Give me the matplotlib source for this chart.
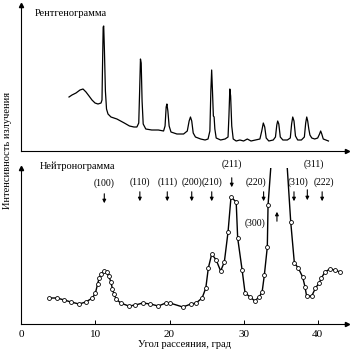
import matplotlib
matplotlib.use("Agg")
import matplotlib.pyplot as plt

plt.rcParams['font.family'] = ['Liberation Serif', 'DejaVu Serif']

# X-ray pattern (angle, deg / intensity, arb.)
xray_angle = [6.44, 6.84, 7.38, 7.92, 8.33, 8.73, 9.14, 9.54, 9.95, 10.35, 10.76, 10.89,
              10.95, 11.05, 11.12, 11.22, 11.35, 11.5, 11.7, 12.1, 12.9, 13.9, 14.6, 15.2,
              15.6, 15.85, 15.97, 16.08, 16.18, 16.3, 16.45, 16.8, 17.6, 18.5, 19.2, 19.4,
              19.55, 19.65, 19.78, 19.95, 20.2, 21.0, 21.9, 22.4, 22.65, 22.83, 23.0, 23.2,
              23.5, 24.2, 24.8, 25.2, 25.45, 25.58, 25.69, 25.8, 25.92, 26.02, 26.12, 26.3,
              26.9, 27.5, 27.9, 28.02, 28.14, 28.25, 28.4, 28.6, 29.0, 29.5, 30.0, 30.5,
              31.0, 31.6, 32.2, 32.45, 32.66, 32.85, 33.05, 33.4, 34.0, 34.3, 34.48, 34.6,
              34.75, 34.95, 35.3, 35.9, 36.3, 36.48, 36.63, 36.8, 37.0, 37.3, 37.8, 38.2,
              38.38, 38.52, 38.65, 38.8, 38.95, 39.2, 39.6, 40.0, 40.25, 40.4, 40.55, 40.75,
              41.1, 41.45]
xray_int = [54, 56, 58, 61, 62, 59, 55, 51, 48, 47, 48, 51,
            80, 124, 125, 100, 60, 42, 37, 34, 32, 28, 25, 24,
            24, 28, 60, 92, 88, 50, 27, 22, 21, 21, 20, 25,
            44, 47, 40, 25, 19, 17, 17, 20, 30, 34, 30, 18,
            14, 12, 11, 12, 20, 60, 81, 60, 35, 34, 22, 13,
            11, 12, 14, 35, 62, 55, 25, 12, 10, 11, 10, 12,
            10, 11, 12, 20, 28, 24, 13, 10, 11, 14, 26, 30,
            27, 14, 11, 11, 13, 27, 34, 30, 15, 11, 11, 14,
            28, 34, 30, 22, 16, 13, 12, 13, 17, 20, 17, 12,
            11, 10]

# neutron pattern, measured points
neutron_angle = [3.7, 4.8, 5.8, 6.7, 7.8, 8.7, 9.6, 10.0, 10.3, 10.5, 10.8, 11.2,
                 11.5, 11.8, 12.1, 12.3, 12.5, 12.8, 13.4, 14.5, 15.4, 16.4, 17.4, 18.5,
                 19.5, 20.05, 21.8, 22.9, 23.6, 24.4, 24.9, 25.24, 25.7, 26.3, 26.9, 27.4,
                 27.9, 28.3, 29.0, 29.2, 29.8, 30.2, 30.9, 31.5, 32.1, 32.5, 32.8, 33.2,
                 33.3, 34.0, 34.8, 35.6, 36.36, 36.85, 37.38, 37.97, 38.29, 38.5, 39.2, 39.7,
                 40.2, 40.5, 40.98, 41.65, 42.3, 43.0]
neutron_int = [26, 26, 24, 22, 20, 22, 26, 31, 40, 46, 50, 53,
               52, 48, 42, 35, 30, 25, 21, 18, 19, 21, 20, 18,
               21, 21, 17, 20, 21, 26, 36, 56, 70, 64, 53, 62,
               92, 127, 122, 86, 54, 31, 27, 23, 27, 32, 49, 77,
               119, 190, 215, 190, 102, 61, 56, 47, 37, 28, 28, 36,
               41, 46, 52, 55, 54, 52]

# reflections
hkl = ['(100)', '(110)', '(111)', '(200)', '(210)', '(211)', '(220)', '(300)', '(310)', '(311)', '(222)']
hkl_angle = [11.2, 16.0, 19.7, 23.0, 25.7, 28.4, 32.7, 34.5, 36.8, 38.6, 40.6]

W = 353.0
fig = plt.figure(figsize=(3.53, 3.53), dpi=100)
x0 = 21.3 / W
wdt = (347 - 21.3) / W
xmax = (347 - 21.3) / 7.41

ax1 = fig.add_axes([x0, (W - 151) / W, wdt, (151 - 5) / W])
ax2 = fig.add_axes([x0, (W - 324) / W, wdt, (324 - 168) / W])

for ax in (ax1, ax2):
    ax.set_xlim(0, xmax)
    for s in ('top', 'right'):
        ax.spines[s].set_visible(False)
    for s in ('left', 'bottom'):
        ax.spines[s].set_linewidth(0.8)
    ax.plot(1, 0, '>k', ms=3, transform=ax.transAxes, clip_on=False)
    ax.plot(0, 1, '^k', ms=3, transform=ax.transAxes, clip_on=False)
    ax.set_yticks([])

ax1.set_ylim(0, 146)
ax1.set_xticks([])
ax1.plot(xray_angle, xray_int, color='k', lw=0.9)
ax1.text(1.8, 137, 'Рентгенограмма', fontsize=7.5, va='center', ha='left')

ax2.set_ylim(0, 156)
ax2.set_xticks([0, 10, 20, 30, 40])
ax2.tick_params(axis='x', direction='in', length=3, width=0.7, labelsize=8, pad=4)
ax2.plot(neutron_angle, neutron_int, color='k', lw=1.0, marker='o', ms=2.8,
         mfc='white', mec='k', mew=0.6)
ax2.text(2.5, 158, 'Нейтронограмма', fontsize=7.5, va='center', ha='left')
ax2.set_xlabel('Угол рассеяния, град', fontsize=7.5, labelpad=1)

for lab, a in zip(hkl, hkl_angle):
    if lab == '(300)':
        ax2.annotate('', xy=(a, 115), xytext=(a, 100),
                     arrowprops=dict(arrowstyle='-|>', color='k', lw=0.8, mutation_scale=5))
        ax2.text(a - 2.9, 101, lab, fontsize=7, ha='center', va='center')
        continue
    if lab == '(211)':
        y_top, y_bot, y_lab = 149, 134, 160
    elif lab == '(100)':
        y_top, y_bot, y_lab = 133, 118, 141
    elif lab == '(311)':
        y_top, y_bot, y_lab = 137, 121, 160
    else:
        y_top, y_bot, y_lab = 135, 120, 142
    ax2.annotate('', xy=(a, y_bot), xytext=(a, y_top),
                 arrowprops=dict(arrowstyle='-|>', color='k', lw=0.8, mutation_scale=5),
                 annotation_clip=False)
    lx = a
    if lab == '(220)':
        lx = a - 1.0
    if lab == '(310)':
        lx = a + 0.6
    if lab == '(311)':
        lx = a + 0.9
    if lab == '(222)':
        lx = a + 0.3
    ax2.text(lx, y_lab, lab, fontsize=7, ha='center', va='center', clip_on=False)

fig.text(8 / W, 1 - 150 / W, 'Интенсивность излучения', rotation=90, fontsize=7.5,
         ha='center', va='center')

fig.savefig('out.png', dpi=100)
